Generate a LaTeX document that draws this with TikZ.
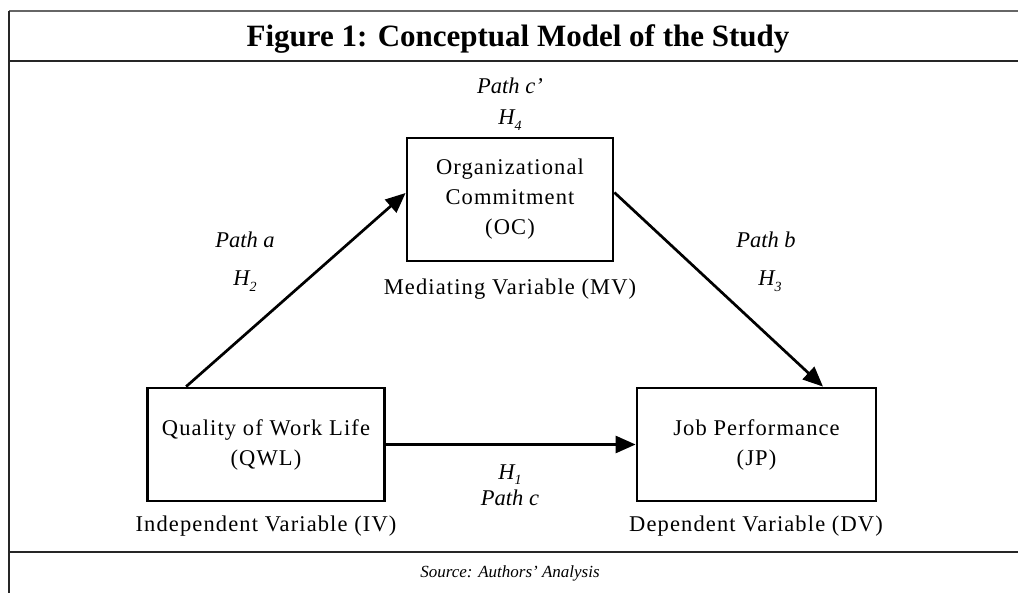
\documentclass[tikz,border=0pt]{standalone}
\usepackage{fontspec}
\setmainfont{Liberation Serif}[LetterSpace=5]
\newfontfamily\plainfont{Liberation Serif}
\usetikzlibrary{arrows.meta}
\newcommand\Hsub[1]{{\plainfont\itshape H\raisebox{-0.55ex}{\fontsize{14}{14}\selectfont #1}}}
\begin{document}
\begin{tikzpicture}[x=1pt,y=-1pt,
  frameline/.style={draw=black!85, line width=1.6pt},
  varbox/.style={draw, line width=2.8pt, align=center, inner sep=0pt,
    font=\fontsize{22.5}{30}\selectfont},
  lbl/.style={inner sep=0pt, anchor=base, font=\fontsize{22.5}{26}\selectfont},
  ilbl/.style={inner sep=0pt, anchor=base, font=\fontsize{22.5}{26}\selectfont\plainfont\itshape},
  conn/.style={line width=2.7pt, -{Triangle[length=20pt,width=17pt]}}]
\useasboundingbox (0,0) rectangle (1018,593);
% frame
\coordinate (tl) at (9,11);
\coordinate (tr) at (1018,11);
\coordinate (bl) at (9,593);
\coordinate (s1l) at (9,61);
\coordinate (s1r) at (1018,61);
\coordinate (s2l) at (9,552);
\coordinate (s2r) at (1018,552);
\draw[frameline, draw=black!60, line width=2pt] (tl) -- (tr);
\draw[frameline] (tl) -- (bl);
\draw[frameline] (s1l) -- (s1r);
\draw[frameline] (s2l) -- (s2r);
\node[inner sep=0pt, anchor=base, font=\fontsize{31}{34}\selectfont\plainfont\bfseries] (title) at (518,47) {Figure 1: Conceptual Model of the Study};
% boxes
\node[varbox, minimum width=206pt, minimum height=123pt] (oc) at (510,199.5) {Organizational\\Commitment\\(OC)};
\node[varbox, minimum width=237pt, minimum height=113pt] (qwl) at (266,444.5) {Quality of Work Life\\(QWL)};
\node[varbox, minimum width=239pt, minimum height=113pt] (jp) at (756.5,444.5) {Job Performance\\(JP)};
% labels
\node[ilbl] (pcp) at (510,94) {Path c’};
\node[lbl] (h4) at (510,125) {\Hsub{4}};
\node[lbl] (mv) at (510,295) {Mediating Variable (MV)};
\node[ilbl] (pa) at (245,248) {Path a};
\node[lbl] (h2) at (245,286) {\Hsub{2}};
\node[ilbl] (pb) at (766,248) {Path b};
\node[lbl] (h3) at (770,286) {\Hsub{3}};
\node[lbl] (h1) at (510,479) {\Hsub{1}};
\node[ilbl] (pc) at (510,506) {Path c};
\node[lbl] (iv) at (266,532) {Independent Variable (IV)};
\node[lbl] (dv) at (756,532) {Dependent Variable (DV)};
\node[inner sep=0pt, anchor=base, font=\fontsize{17}{20}\selectfont\plainfont\itshape] (src) at (510,577) {Source: Authors’ Analysis};
% connectors
\draw[conn] ([xshift=40pt]qwl.north west) -- ([yshift=6.5pt]oc.west);
\draw[conn] ([yshift=7pt]oc.east) -- ([xshift=66.5pt]jp.north);
\draw[conn] (qwl.east) -- (jp.west);
\end{tikzpicture}
\end{document}
